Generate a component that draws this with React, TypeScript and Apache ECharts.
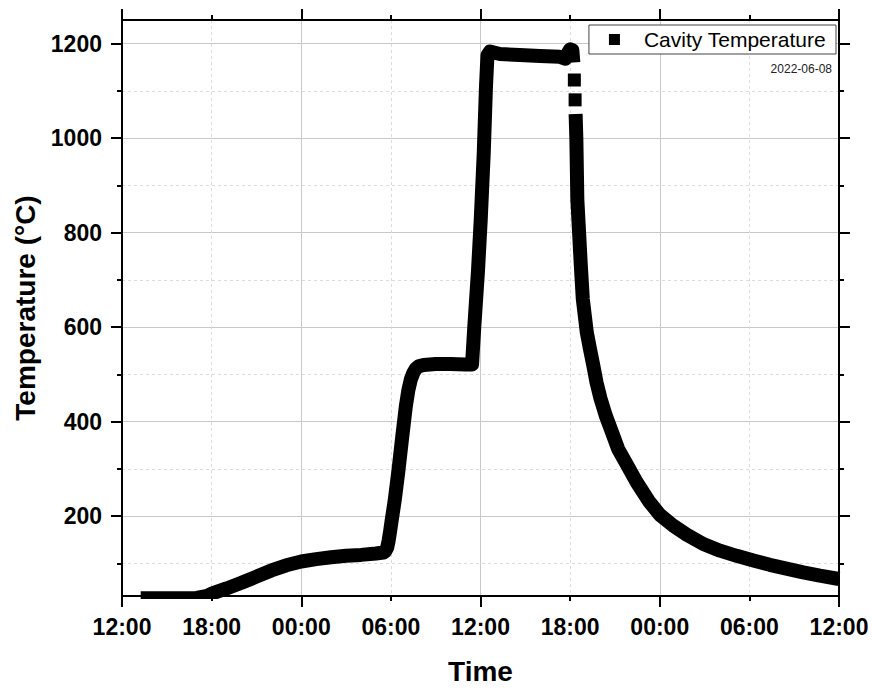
import React, { useEffect, useRef } from "react";
import * as echarts from "echarts";

// ---- data ----
const sampleTimes: string[] = [
  "2022-06-07 13:15", "2022-06-07 15:00", "2022-06-07 17:00", "2022-06-07 17:42",
  "2022-06-07 18:00", "2022-06-07 19:00", "2022-06-07 20:00", "2022-06-07 21:00",
  "2022-06-07 22:00", "2022-06-07 23:00", "2022-06-08 00:00", "2022-06-08 01:00",
  "2022-06-08 02:00", "2022-06-08 03:00", "2022-06-08 04:00", "2022-06-08 05:00",
  "2022-06-08 05:30", "2022-06-08 05:36", "2022-06-08 05:45", "2022-06-08 05:51",
  "2022-06-08 05:57", "2022-06-08 06:03", "2022-06-08 06:15", "2022-06-08 06:30",
  "2022-06-08 06:45", "2022-06-08 07:00", "2022-06-08 07:10", "2022-06-08 07:20",
  "2022-06-08 07:30", "2022-06-08 07:40", "2022-06-08 07:52", "2022-06-08 08:12",
  "2022-06-08 09:00", "2022-06-08 10:00", "2022-06-08 11:00", "2022-06-08 11:26",
  "2022-06-08 11:35", "2022-06-08 11:50", "2022-06-08 12:01", "2022-06-08 12:13",
  "2022-06-08 12:22", "2022-06-08 12:28", "2022-06-08 12:38", "2022-06-08 13:18",
  "2022-06-08 14:38", "2022-06-08 15:59", "2022-06-08 17:18", "2022-06-08 17:42",
  "2022-06-08 17:51", "2022-06-08 18:00", "2022-06-08 18:09", "2022-06-08 18:13",
  "2022-06-08 18:15", "2022-06-08 18:17", "2022-06-08 18:18", "2022-06-08 18:20",
  "2022-06-08 18:21", "2022-06-08 18:22", "2022-06-08 18:25", "2022-06-08 18:29",
  "2022-06-08 18:36", "2022-06-08 18:43", "2022-06-08 18:51", "2022-06-08 19:07",
  "2022-06-08 19:20", "2022-06-08 19:33", "2022-06-08 19:46", "2022-06-08 20:02",
  "2022-06-08 20:23", "2022-06-08 20:47", "2022-06-08 21:13", "2022-06-08 21:48",
  "2022-06-08 22:27", "2022-06-08 23:16", "2022-06-09 00:00", "2022-06-09 00:54",
  "2022-06-09 01:48", "2022-06-09 02:55", "2022-06-09 04:02", "2022-06-09 05:09",
  "2022-06-09 06:16", "2022-06-09 07:22", "2022-06-09 08:29", "2022-06-09 09:36",
  "2022-06-09 10:43", "2022-06-09 12:00",
];
const cavityTemperature: (number | null)[] = [
  26, 26, 27, 31,
  36, 47, 59, 72,
  85, 96, 104, 109,
  113, 116, 118, 121,
  123, 125, 133, 148,
  168, 190, 232, 295,
  365, 432, 466, 489,
  503, 512, 517, 520,
  522, 522, 521, 521,
  600, 720, 828, 968,
  1109, 1175, 1183, 1178,
  1176, 1174, 1172, 1168,
  1180, 1188, 1186, 1160,
  null, 1123, null, 1081,
  null, 1051, 1000, 870,
  800, 730, 659, 589,
  553, 519, 483, 449,
  413, 379, 342, 309,
  272, 232, 203, 180,
  161, 141, 127, 116,
  106, 97, 89, 81,
  74, 67,
];

const xStart = "2022-06-07 12:00";
const xEnd = "2022-06-09 12:00";
const xLabelTimes = [
  "2022-06-07 12:00", "2022-06-07 18:00", "2022-06-08 00:00", "2022-06-08 06:00",
  "2022-06-08 12:00", "2022-06-08 18:00", "2022-06-09 00:00", "2022-06-09 06:00",
  "2022-06-09 12:00",
];
const xMajorTimes = [
  "2022-06-07 12:00", "2022-06-08 00:00", "2022-06-08 12:00", "2022-06-09 00:00",
  "2022-06-09 12:00",
];
const xMinorTimes = [
  "2022-06-07 18:00", "2022-06-08 06:00", "2022-06-08 18:00", "2022-06-09 06:00",
];
const yMin = 31;
const yMax = 1250;
const yMajorTicks = [200, 400, 600, 800, 1000, 1200];
const yMinorTicks = [100, 300, 500, 700, 900, 1100];

const seriesName = "Cavity Temperature";
const dateNote = "2022-06-08";
const xTitle = "Time";
const yTitle = "Temperature (°C)";

const toMs = (s: string) => Date.parse(s.replace(" ", "T") + ":00Z");
const pad = (n: number) => (n < 10 ? "0" + n : "" + n);
const fmtTime = (v: number) => {
  const d = new Date(v);
  return pad(d.getUTCHours()) + ":" + pad(d.getUTCMinutes());
};

const FONT = "Liberation Sans, Arial, sans-serif";

export default function App() {
  const ref = useRef<HTMLDivElement>(null);

  useEffect(() => {
    if (!ref.current) return;
    const chart = echarts.init(ref.current, undefined, { renderer: "svg" });

    const data = sampleTimes.map((t, i) => {
      const v = cavityTemperature[i];
      if (v === null) return "-";
      const prevNull = i > 0 && cavityTemperature[i - 1] === null;
      const nextNull = i < cavityTemperature.length - 1 && cavityTemperature[i + 1] === null;
      const isolated = prevNull && nextNull;
      return isolated
        ? { value: [toMs(t), v], symbol: "rect", symbolSize: 13 }
        : { value: [toMs(t), v], symbol: "none" };
    });

    const xMin = toMs(xStart);
    const xMax = toMs(xEnd);
    const labelMs = xLabelTimes.map(toMs);
    const majorMs = xMajorTimes.map(toMs);
    const minorMs = xMinorTimes.map(toMs);

    const blackLine = { color: "#000", width: 2 };

    const xBase = { type: "value", min: xMin, max: xMax, gridIndex: 0 };
    const yBase = { type: "value", min: yMin, max: yMax, gridIndex: 0 };

    const option: any = {
      animation: false,
      backgroundColor: "#fff",
      textStyle: { fontFamily: FONT },
      grid: { left: 122, right: 33, top: 20, bottom: 92, containLabel: false },
      legend: {
        data: [seriesName],
        right: 36,
        top: 25,
        icon: "rect",
        itemWidth: 11,
        itemHeight: 11,
        padding: [4, 10, 4, 20],
        borderColor: "#444",
        borderWidth: 1,
        backgroundColor: "#fff",
        textStyle: {
          fontFamily: FONT,
          fontSize: 21,
          lineHeight: 21,
          color: "#000",
          padding: [0, 0, 0, 19],
        },
      },
      xAxis: [
        {
          ...xBase,
          position: "bottom",
          z: 5,
          name: xTitle,
          nameLocation: "middle",
          nameGap: 61,
          nameTextStyle: { fontFamily: FONT, fontSize: 28, fontWeight: "bold", color: "#000" },
          axisLine: { show: true, onZero: false, lineStyle: blackLine },
          axisTick: { show: true, customValues: majorMs, length: 11, lineStyle: blackLine },
          axisLabel: {
            show: true,
            customValues: labelMs,
            formatter: (v: number) => fmtTime(v),
            fontFamily: FONT,
            fontSize: 23,
            fontWeight: "bold",
            color: "#000",
            margin: 19,
          },
          splitLine: { show: false },
        },
        {
          ...xBase,
          position: "bottom",
          z: 5,
          axisLine: { show: false, onZero: false },
          axisTick: { show: true, customValues: minorMs, length: 5, lineStyle: blackLine },
          axisLabel: { show: false },
          splitLine: { show: false },
        },
        {
          ...xBase,
          position: "top",
          z: 5,
          axisLine: { show: true, onZero: false, lineStyle: blackLine },
          axisTick: { show: true, customValues: majorMs, length: 11, lineStyle: blackLine },
          axisLabel: { show: false },
          splitLine: { show: false },
        },
        {
          ...xBase,
          position: "top",
          z: 5,
          axisLine: { show: false, onZero: false },
          axisTick: { show: true, customValues: minorMs, length: 5, lineStyle: blackLine },
          axisLabel: { show: false },
          splitLine: { show: false },
        },
        {
          ...xBase,
          position: "bottom",
          z: 0,
          axisLine: { show: false, onZero: false },
          axisTick: { show: false, customValues: majorMs },
          axisLabel: { show: false },
          splitLine: { show: true, lineStyle: { color: "#c8c8c8", width: 1, type: "solid" } },
        },
        {
          ...xBase,
          position: "bottom",
          z: 0,
          axisLine: { show: false, onZero: false },
          axisTick: { show: false, customValues: minorMs },
          axisLabel: { show: false },
          splitLine: { show: true, lineStyle: { color: "#dcdcdc", width: 1, type: [3, 3] } },
        },
      ],
      yAxis: [
        {
          ...yBase,
          position: "left",
          z: 5,
          name: yTitle,
          nameLocation: "middle",
          nameGap: 76,
          nameTextStyle: { fontFamily: FONT, fontSize: 28, fontWeight: "bold", color: "#000" },
          axisLine: { show: true, onZero: false, lineStyle: blackLine },
          axisTick: { show: true, customValues: yMajorTicks, length: 11, lineStyle: blackLine },
          axisLabel: {
            show: true,
            customValues: yMajorTicks,
            formatter: (v: number) => String(v),
            fontFamily: FONT,
            fontSize: 23,
            fontWeight: "bold",
            color: "#000",
            margin: 20,
          },
          splitLine: { show: false },
        },
        {
          ...yBase,
          position: "left",
          z: 5,
          axisLine: { show: false, onZero: false },
          axisTick: { show: true, customValues: yMinorTicks, length: 5, lineStyle: blackLine },
          axisLabel: { show: false },
          splitLine: { show: false },
        },
        {
          ...yBase,
          position: "right",
          z: 5,
          axisLine: { show: true, onZero: false, lineStyle: blackLine },
          axisTick: { show: true, customValues: yMajorTicks, length: 11, lineStyle: blackLine },
          axisLabel: { show: false },
          splitLine: { show: false },
        },
        {
          ...yBase,
          position: "right",
          z: 5,
          axisLine: { show: false, onZero: false },
          axisTick: { show: true, customValues: yMinorTicks, length: 5, lineStyle: blackLine },
          axisLabel: { show: false },
          splitLine: { show: false },
        },
        {
          ...yBase,
          position: "left",
          z: 0,
          axisLine: { show: false, onZero: false },
          axisTick: { show: false, customValues: yMajorTicks },
          axisLabel: { show: false },
          splitLine: { show: true, lineStyle: { color: "#c8c8c8", width: 1, type: "solid" } },
        },
        {
          ...yBase,
          position: "left",
          z: 0,
          axisLine: { show: false, onZero: false },
          axisTick: { show: false, customValues: yMinorTicks },
          axisLabel: { show: false },
          splitLine: { show: true, lineStyle: { color: "#dcdcdc", width: 1, type: [3, 3] } },
        },
      ],
      graphic: [
        {
          type: "rect",
          z: 3,
          silent: true,
          shape: { x: 124, y: 599, width: 713, height: 14 },
          style: { fill: "#fff" },
        },
        {
          type: "text",
          z: 6,
          x: 832,
          y: 69,
          style: {
            text: dateNote,
            fontFamily: FONT,
            fontSize: 12,
            fill: "#222",
            textAlign: "right",
            textVerticalAlign: "middle",
          },
        },
      ],
      series: [
        {
          name: seriesName,
          type: "line",
          xAxisIndex: 0,
          yAxisIndex: 0,
          z: 2,
          data,
          showSymbol: true,
          symbol: "rect",
          symbolSize: 13,
          connectNulls: false,
          smooth: false,
          itemStyle: { color: "#000" },
          lineStyle: { color: "#000", width: 14, join: "round", cap: "butt" },
        },
      ],
    };

    chart.setOption(option);
    return () => chart.dispose();
  }, []);

  return (
    <div
      ref={ref}
      style={{ position: "fixed", left: 0, top: 0, width: 872, height: 690, background: "#fff" }}
    />
  );
}
